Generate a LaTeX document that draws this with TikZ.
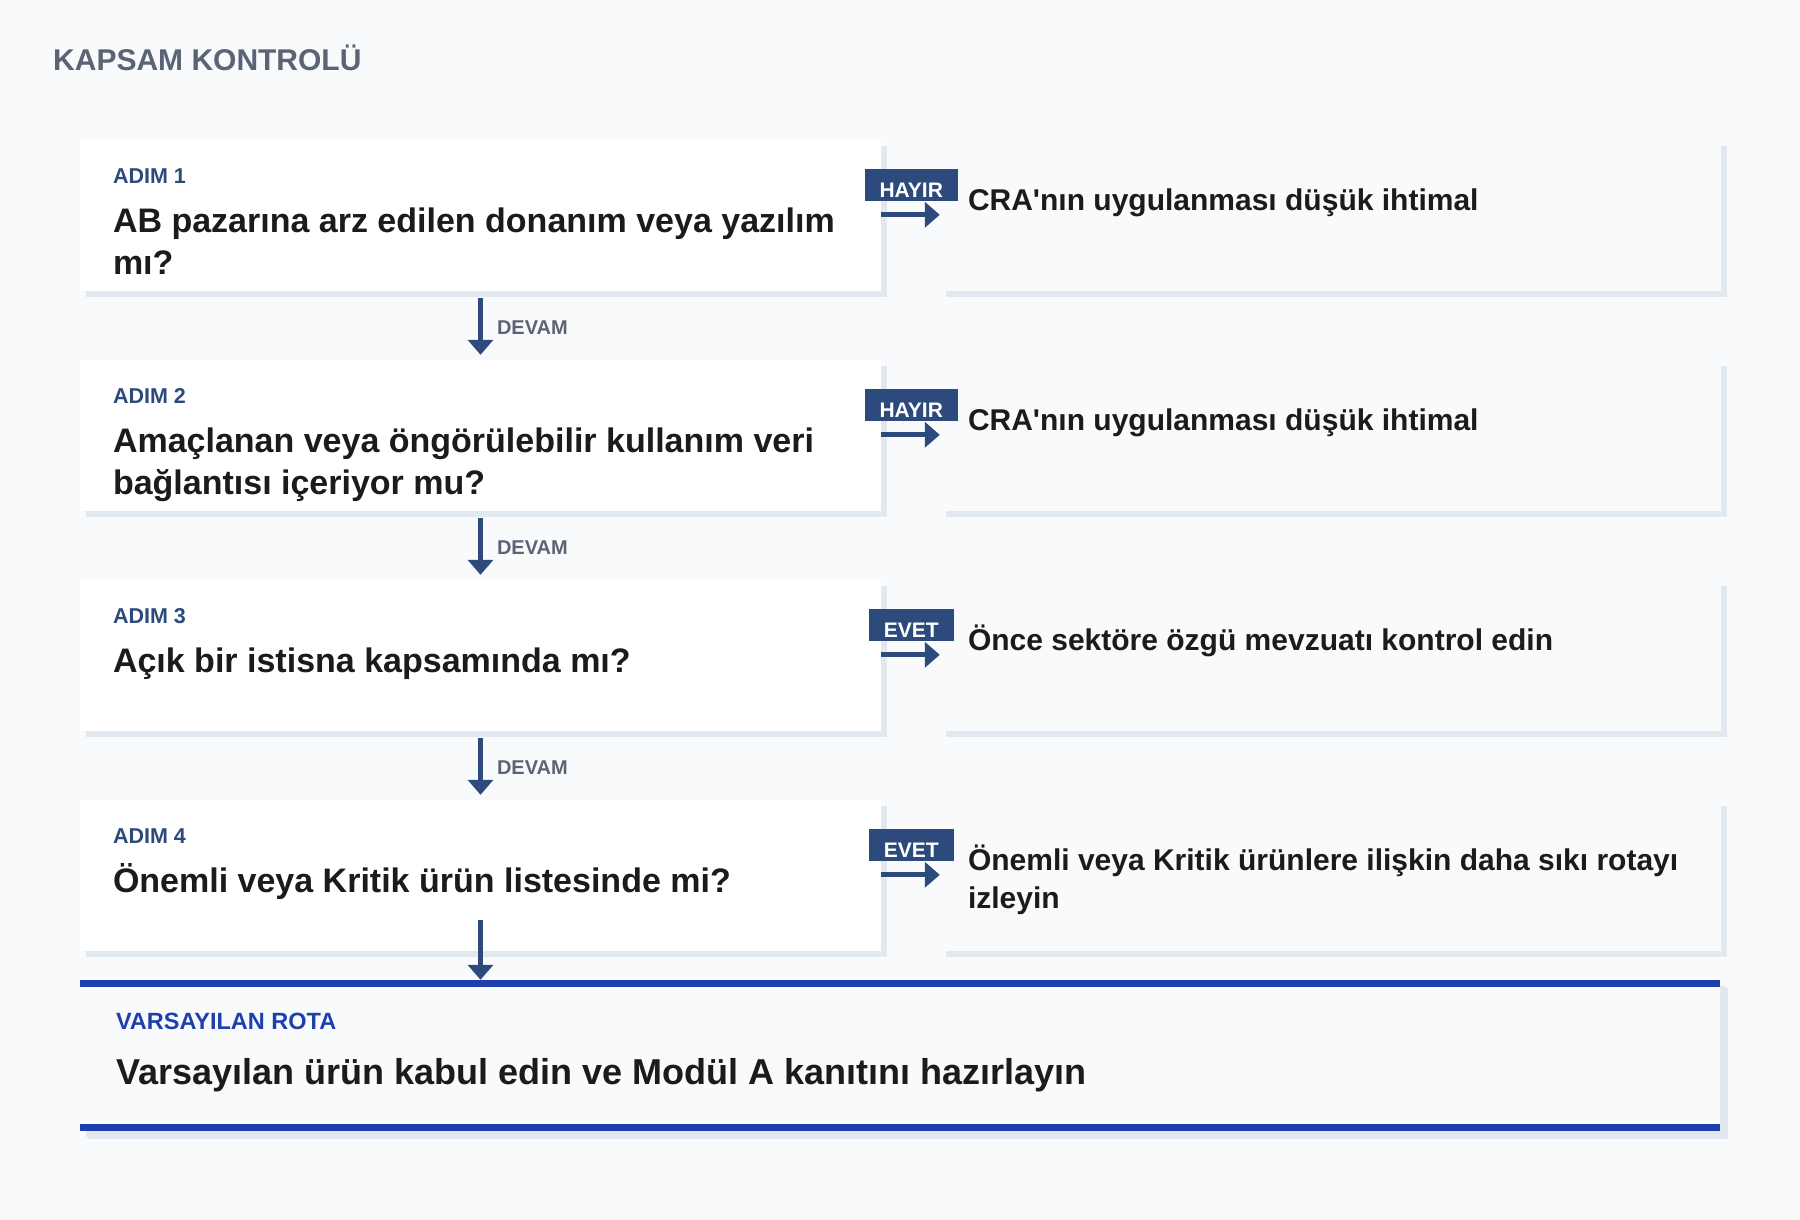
\documentclass[tikz,border=0pt]{standalone}
\usepackage{fontspec}
\setmainfont{Liberation Sans}
\usetikzlibrary{arrows.meta,positioning,shadows}
\definecolor{bgc}{HTML}{F8FAFC}
\definecolor{shadowc}{HTML}{E2E8F0}
\definecolor{navy}{HTML}{2D4A7C}
\definecolor{rota}{HTML}{1E40AF}
\definecolor{greyc}{HTML}{5B6474}
\definecolor{inkc}{HTML}{1B1B1D}
\newcommand\toplines[1]{\begin{tabular}[t]{@{}l@{}}#1\end{tabular}}
\tikzset{
  stepbox/.style={rectangle, fill=white, inner sep=0pt, minimum width=801pt, minimum height=151pt,
    drop shadow={shadow xshift=6pt, shadow yshift=-6pt, fill=shadowc, opacity=1}},
  outbox/.style={stepbox, fill=bgc, minimum width=781pt},
  rotabox/.style={stepbox, fill=bgc, minimum width=1640pt,
    drop shadow={shadow xshift=8pt, shadow yshift=-8pt, fill=shadowc, opacity=1}},
  txt/.style={inner sep=0pt, anchor=base west},
  ttl/.style={txt, text=greyc, font=\fontsize{30}{36}\selectfont\bfseries},
  adim/.style={txt, text=navy, font=\fontsize{21.5}{25}\selectfont\bfseries},
  quest/.style={txt, text=inkc, font=\fontsize{34}{42}\selectfont\bfseries},
  outtxt/.style={txt, text=inkc, font=\fontsize{30}{38}\selectfont\bfseries},
  devam/.style={inner sep=0pt, anchor=west, text=greyc, font=\fontsize{20}{22}\selectfont\bfseries},
  badge/.style={fill=navy, text=white, inner xsep=15pt, inner ysep=0pt, text height=29pt, text depth=3pt,
    font=\fontsize{21}{22}\selectfont\bfseries},
  rotalbl/.style={txt, text=rota, font=\fontsize{23.5}{26}\selectfont\bfseries},
  rotatxt/.style={txt, text=inkc, font=\fontsize{36}{42}\selectfont\bfseries},
  downarrow/.style={draw=navy, line width=5pt, -{Triangle[length=15pt,width=25pt]}},
  outarrow/.style={draw=navy, line width=5pt, -{Triangle[length=15pt,width=25pt]}},
}
\begin{document}
\begin{tikzpicture}[x=1pt, y=-1pt, line join=round]
  \def\dy{220} % adim arasi
  \fill[bgc] (0,0) rectangle (1800,1220);
  \useasboundingbox (0,0) rectangle (1800,1220);
  \node[ttl] (title) at (53,71) {KAPSAM KONTROLÜ};
  \foreach \i/\q/\b/\o in {
      1/{AB pazarına arz edilen donanım veya yazılım\\mı?}/HAYIR/{CRA\textquotesingle nın uygulanması düşük ihtimal},
      2/{Amaçlanan veya öngörülebilir kullanım veri\\bağlantısı içeriyor mu?}/HAYIR/{CRA\textquotesingle nın uygulanması düşük ihtimal},
      3/{Açık bir istisna kapsamında mı?}/EVET/{Önce sektöre özgü mevzuatı kontrol edin},
      4/{Önemli veya Kritik ürün listesinde mi?}/EVET/{Önemli veya Kritik ürünlere ilişkin daha sıkı rotayı\\izleyin}}{
    \node[stepbox] (s\i) at (480.5, {215.5+\dy*(\i-1)}) {};
    \node[outbox] (o\i) at (1330.5, {215.5+\dy*(\i-1)}) {};
    \node[adim] (a\i) at ([xshift=33pt,yshift=-43.5pt]s\i.north west) {ADIM \i};
    \node[quest] (q\i) at ([yshift=-49pt]a\i.base west) {\toplines{\q}};
    \node[badge] (b\i) at ([xshift=30pt,yshift=-45pt]s\i.north east) {\b};
    \draw[outarrow] ([yshift=-75pt]s\i.north east) -- ([yshift=-75pt]o\i.north west);
    \node[outtxt] (t\i) at ([xshift=28pt,yshift=-71pt]o\i.north west) {\toplines{\o}};
  }
  \foreach \i/\j in {1/2,2/3,3/4}
    \draw[downarrow, shorten <=7pt, shorten >=5pt] (s\i.south) -- (s\j.north)
      node[devam, midway, xshift=14pt, yshift=-2.5pt] {DEVAM};
  % varsayilan rota
  \node[rotabox] (dflt) at (900,1055.5) {};
  \fill[rota] (dflt.north west) rectangle ([yshift=-7pt]dflt.north east);
  \fill[rota] ([yshift=7pt]dflt.south west) rectangle (dflt.south east);
  \node[rotalbl] (r1) at ([xshift=36pt,yshift=-50pt]dflt.north west) {VARSAYILAN ROTA};
  \node[rotatxt] (r2) at ([yshift=-55pt]r1.base west) {Varsayılan ürün kabul edin ve Modül A kanıtını hazırlayın};
  \draw[downarrow] ([yshift=31pt]s4.south) -- (s4.south |- dflt.north);
\end{tikzpicture}
\end{document}
